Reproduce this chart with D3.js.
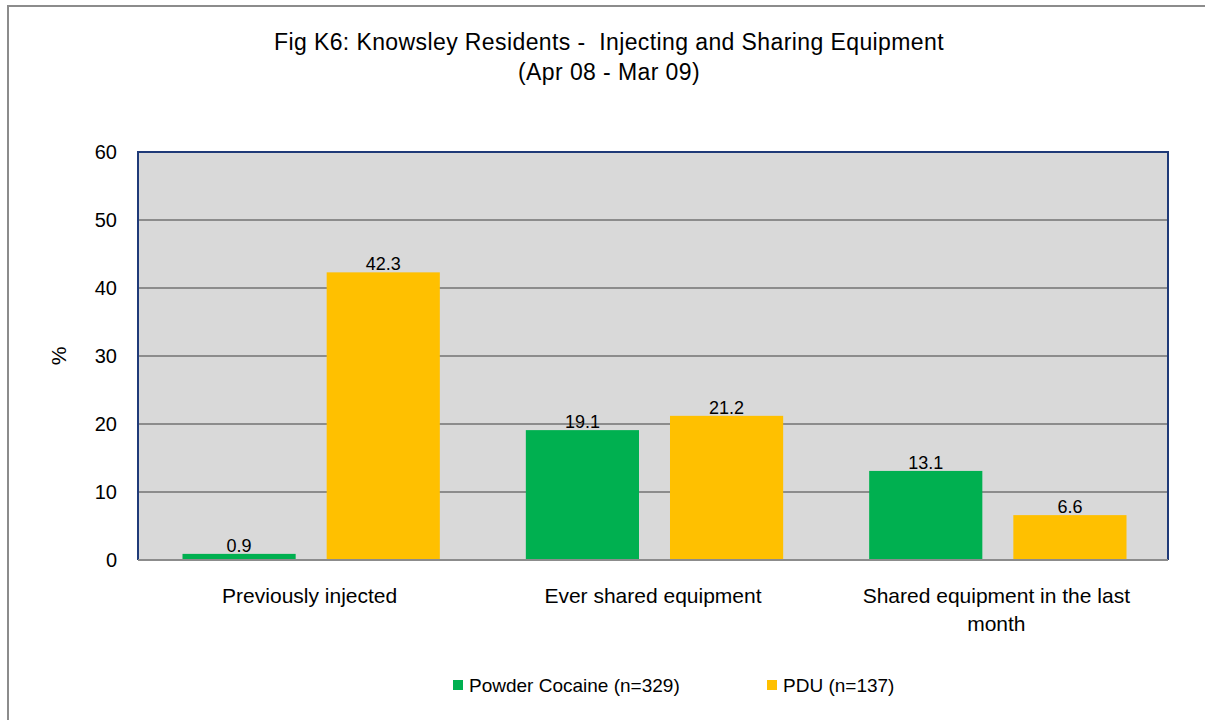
<!DOCTYPE html>
<html>
<head>
<meta charset="utf-8">
<script src="https://cdn.jsdelivr.net/npm/d3@7"></script>
<style>
  body { margin: 0; background: #fff; }
  svg text { font-family: "Liberation Sans", Arial, sans-serif; fill: #000; white-space: pre; }
</style>
</head>
<body>
<svg id="chart" width="1205" height="720"></svg>
<script>
// data
const categories = [["Previously injected"], ["Ever shared equipment"], ["Shared equipment in the last", "month"]]
const seriesNames = ["Powder Cocaine (n=329)", "PDU (n=137)"]
const powderCocaine = [0.9, 19.1, 13.1]
const pdu = [42.3, 21.2, 6.6]
const yTicks = [0, 10, 20, 30, 40, 50, 60]
const colors = ["#00B050", "#FFC000"]

const svg = d3.select("#chart")

// outer chart border
svg.append("rect").attr("x", 8).attr("y", 6).attr("width", 1220).attr("height", 730)
    .attr("fill", "#fff").attr("stroke", "#8c8c8c").attr("stroke-width", 2)

const plotLeft = 138, plotRight = 1168, plotTop = 152, plotBottom = 560

const x0 = d3.scaleBand().domain(d3.range(categories.length)).range([plotLeft, plotRight])
const x1 = d3.scaleBand().domain(d3.range(seriesNames.length))
    .range([44.5, x0.bandwidth() - 41.5]).paddingInner(0.215)
const y = d3.scaleLinear().domain([0, 60]).range([plotBottom, plotTop])

// plot area
svg.append("rect").attr("x", plotLeft).attr("y", plotTop)
    .attr("width", plotRight - plotLeft).attr("height", plotBottom - plotTop)
    .attr("fill", "#d9d9d9")

// gridlines
svg.append("g").selectAll("line").data(yTicks.slice(1, -1)).join("line")
    .attr("x1", plotLeft).attr("x2", plotRight)
    .attr("y1", d => y(d)).attr("y2", d => y(d))
    .attr("stroke", "#8c8c8c").attr("stroke-width", 2)

// y axis labels
const yAxis = svg.append("g").attr("transform", `translate(${plotLeft},0)`)
    .call(d3.axisLeft(y).tickValues(yTicks).tickSize(0).tickPadding(21))
yAxis.select(".domain").remove()
yAxis.selectAll("text").style("font-size", "20px").attr("fill", "#000")

svg.append("text").attr("transform", "translate(66,356) rotate(-90)")
    .attr("text-anchor", "middle").style("font-size", "21px").text("%")

// bars
const rows = categories.map((c, i) => [powderCocaine[i], pdu[i]])
const groups = svg.append("g").selectAll("g").data(rows).join("g")
    .attr("transform", (d, i) => `translate(${x0(i)},0)`)

groups.selectAll("rect").data(d => d).join("rect")
    .attr("x", (d, j) => x1(j)).attr("width", x1.bandwidth())
    .attr("y", d => y(d)).attr("height", d => y(0) - y(d))
    .attr("fill", (d, j) => colors[j])

groups.selectAll("text").data(d => d).join("text")
    .attr("x", (d, j) => x1(j) + x1.bandwidth() / 2)
    .attr("y", d => y(d) - 2)
    .attr("text-anchor", "middle").style("font-size", "18px").attr("fill", "#222")
    .text(d => d.toFixed(1))

// plot border: blue frame, gray baseline
svg.append("path")
    .attr("d", `M${plotLeft},${plotBottom} V${plotTop} H${plotRight} V${plotBottom}`)
    .attr("fill", "none").attr("stroke", "#1f3a78").attr("stroke-width", 2)
svg.append("line").attr("x1", plotLeft).attr("x2", plotRight).attr("y1", plotBottom).attr("y2", plotBottom)
    .attr("stroke", "#8c8c8c").attr("stroke-width", 2)

// category labels
svg.append("g").selectAll("text").data(categories).join("text")
    .attr("x", (d, i) => x0(i) + x0.bandwidth() / 2)
    .attr("y", 603)
    .attr("text-anchor", "middle").style("font-size", "21px").attr("fill", "#222")
    .selectAll("tspan").data(d => d).join("tspan")
    .attr("x", function () { return d3.select(this.parentNode).attr("x") })
    .attr("dy", (d, k) => k === 0 ? 0 : 28)
    .text(d => d)

// title
const title = svg.append("text").attr("text-anchor", "middle")
    .style("font-size", "23px").style("letter-spacing", "0.4px")
title.append("tspan").attr("x", 609).attr("y", 50).text("Fig K6: Knowsley Residents -  Injecting and Sharing Equipment")
title.append("tspan").attr("x", 609).attr("y", 80).text("(Apr 08 - Mar 09)")

// legend
const legendX = [453, 767]
const legend = svg.append("g").selectAll("g").data(seriesNames).join("g")
    .attr("transform", (d, i) => `translate(${legendX[i]},680)`)
legend.append("rect").attr("width", 10).attr("height", 10).attr("fill", (d, i) => colors[i])
legend.append("text").attr("x", 16).attr("y", 12).style("font-size", "19px").attr("fill", "#222").text(d => d)
</script>
</body>
</html>
